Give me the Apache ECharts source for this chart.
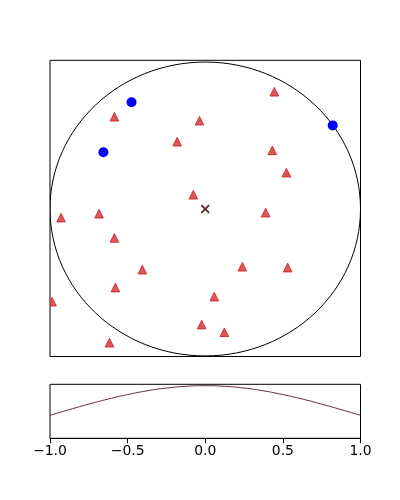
<!DOCTYPE html>
<html>
<head>
<meta charset="utf-8">
<script src="https://cdn.jsdelivr.net/npm/echarts@6/dist/echarts.min.js"></script>
<style>html,body{margin:0;padding:0;background:#fff}#c{width:400px;height:500px}</style>
</head>
<body>
<div id="c"></div>
<script>
// Blue circle points [x, y]
var bluePoints = [[-0.475, 0.726], [-0.656, 0.386], [0.821, 0.569]];
// Red triangle points [x, y]
var redPoints = [
  [-0.585, 0.628], [-0.037, 0.601], [-0.181, 0.458], [-0.077, 0.097],
  [0.445, 0.798], [0.432, 0.399], [0.523, 0.247], [-0.929, -0.059],
  [-0.684, -0.032], [-0.585, -0.197], [-0.405, -0.413], [-0.579, -0.535],
  [-0.987, -0.631], [-0.023, -0.787], [-0.617, -0.910], [0.389, -0.025],
  [0.239, -0.393], [0.531, -0.399], [0.058, -0.597], [0.123, -0.839]
];
// Centre marker
var centerPoint = [[0, 0]];
// Circle (center x, center y, radius)
var circleSpec = [[0, 0, 1]];
// Bottom curve samples
var curveX = [-1, -0.875, -0.75, -0.625, -0.5, -0.375, -0.25, -0.125, 0,
              0.125, 0.25, 0.375, 0.5, 0.625, 0.75, 0.875, 1];
var curveY = [0.607, 0.682, 0.755, 0.823, 0.882, 0.932, 0.969, 0.992, 1.0,
              0.992, 0.969, 0.932, 0.882, 0.823, 0.755, 0.682, 0.607];
var xTicks = [-1.0, -0.5, 0.0, 0.5, 1.0];

var curveData = curveX.map(function (x, i) { return [x, curveY[i]]; });

var chart = echarts.init(document.getElementById('c'), null, {renderer: 'canvas'});
var fmt = function (v) {
  var s = Number(v).toFixed(1);
  return s.replace('-', '\u2212');
};
chart.setOption({
  animation: false,
  grid: [
    {left: 50, right: 39.5, top: 60.3, bottom: 143.5, show: true, borderColor: '#000', borderWidth: 1, backgroundColor: 'transparent'},
    {left: 50, right: 39.5, top: 384.3, bottom: 61.7, show: true, borderColor: '#000', borderWidth: 1, backgroundColor: 'transparent'}
  ],
  xAxis: [
    {gridIndex: 0, type: 'value', min: -1, max: 1, show: false},
    {gridIndex: 1, type: 'value', min: -1, max: 1, interval: 0.5,
     axisLine: {show: true, lineStyle: {color: '#000', width: 1}},
     axisTick: {show: true, length: 4.9, lineStyle: {color: '#000', width: 1}},
     axisLabel: {show: true, color: '#000', fontSize: 13.9, fontFamily: 'DejaVu Sans', margin: 6, formatter: fmt, showMinLabel: true, showMaxLabel: true},
     splitLine: {show: false}}
  ],
  yAxis: [
    {gridIndex: 0, type: 'value', min: -1.004, max: 1.012, show: false},
    {gridIndex: 1, type: 'value', min: 0.30, max: 1.019, show: false}
  ],
  series: [
    {
      type: 'custom', xAxisIndex: 0, yAxisIndex: 0, data: circleSpec, silent: true, clip: true,
      renderItem: function (params, api) {
        var c = api.coord([api.value(0), api.value(1)]);
        var s = api.size([api.value(2), api.value(2)]);
        return {
          type: 'ellipse',
          shape: {cx: c[0], cy: c[1], rx: s[0], ry: s[1]},
          style: {fill: 'none', stroke: '#000', lineWidth: 1}
        };
      }
    },
    {
      type: 'custom', xAxisIndex: 0, yAxisIndex: 0, data: redPoints, clip: true,
      renderItem: function (params, api) {
        var c = api.coord([api.value(0), api.value(1)]);
        var h = 4.3;
        return {
          type: 'polygon',
          shape: {points: [[c[0], c[1] - h], [c[0] + h, c[1] + h], [c[0] - h, c[1] + h]]},
          style: {fill: 'rgba(210,45,48,0.8)', stroke: 'rgba(205,40,42,0.9)', lineWidth: 1}
        };
      }
    },
    {
      type: 'scatter', xAxisIndex: 0, yAxisIndex: 0, data: bluePoints, symbol: 'circle', symbolSize: 10, clip: true,
      itemStyle: {color: '#0000ff', opacity: 1}
    },
    {
      type: 'scatter', xAxisIndex: 0, yAxisIndex: 0, data: centerPoint, clip: true,
      symbol: 'path://M0,1.4L1.4,0L5,3.6L8.6,0L10,1.4L6.4,5L10,8.6L8.6,10L5,6.4L1.4,10L0,8.6L3.6,5Z',
      symbolSize: 9, itemStyle: {color: '#5a2626', opacity: 1}
    },
    {
      type: 'line', xAxisIndex: 1, yAxisIndex: 1, data: curveData, smooth: true, symbol: 'none',
      lineStyle: {color: '#5e2e2e', width: 1}
    }
  ]
});
</script>
</body>
</html>
